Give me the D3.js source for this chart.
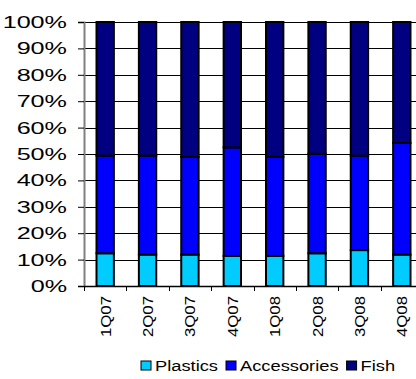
<!DOCTYPE html>
<html>
<head>
<meta charset="utf-8">
<script src="https://cdn.jsdelivr.net/npm/d3@7"></script>
<style>
  html, body { margin: 0; padding: 0; background: #fff; }
  svg { display: block; }
  text { font-family: "Liberation Sans", Arial, sans-serif; fill: #000; }
</style>
</head>
<body>
<svg id="chart" width="416" height="379"></svg>
<script>
// Quarterly product mix, percent of total
const quarters = ["1Q07", "2Q07", "3Q07", "4Q07", "1Q08", "2Q08", "3Q08", "4Q08"];
const plastics = [12.4, 11.9, 11.9, 11.4, 11.4, 12.4, 13.6, 11.9];
const accessories = [37.0, 37.5, 37.0, 41.1, 37.5, 37.7, 35.8, 42.3];
const fish = quarters.map((q, i) => +(100 - plastics[i] - accessories[i]).toFixed(1));
const seriesNames = ["Plastics", "Accessories", "Fish"];
const seriesColors = ["#00CCFF", "#0000FF", "#000080"];
const yTicks = [0, 10, 20, 30, 40, 50, 60, 70, 80, 90, 100];

const rows = quarters.map((q, i) => ({
  quarter: q, Plastics: plastics[i], Accessories: accessories[i], Fish: fish[i]
}));

const svg = d3.select("#chart");
const plot = { left: 84, top: 22, bottom: 286, right: 423 };

const x = d3.scaleBand().domain(quarters).range([plot.left, plot.right]).paddingInner(0.59).paddingOuter(0.295);
const y = d3.scaleLinear().domain([0, 100]).range([plot.bottom, plot.top]);

// Horizontal gridlines
svg.append("g").selectAll("line").data(yTicks.slice(1)).join("line")
  .attr("x1", plot.left).attr("x2", plot.right)
  .attr("y1", d => Math.round(y(d)) + 0.5).attr("y2", d => Math.round(y(d)) + 0.5)
  .attr("stroke", "#000").attr("stroke-width", 1);

// Stacked bars
const stack = d3.stack().keys(seriesNames)(rows);
const color = d3.scaleOrdinal().domain(seriesNames).range(seriesColors);
svg.append("g").selectAll("g").data(stack).join("g")
  .attr("fill", d => color(d.key))
  .selectAll("rect").data(d => d).join("rect")
  .attr("x", d => x(d.data.quarter))
  .attr("width", x.bandwidth())
  .attr("y", d => y(d[1]))
  .attr("height", d => y(d[0]) - y(d[1]))
  .attr("stroke", "#000").attr("stroke-width", 2);

// Y axis: line and ticks from d3, labels placed in a horizontally widened frame
const yAxis = svg.append("g").attr("transform", `translate(${plot.left},0)`)
  .call(d3.axisLeft(y).tickValues(yTicks).tickSize(6).tickFormat(""));
yAxis.select(".domain").attr("stroke", "#808080").attr("stroke-width", 2);
yAxis.selectAll(".tick line").attr("stroke", "#000");
svg.append("g").selectAll("g").data(yTicks).join("g")
  .attr("transform", d => `translate(67,${y(d) + 6}) scale(1.48,1)`)
  .append("text")
  .attr("text-anchor", "end")
  .attr("font-size", 17)
  .text(d => d + "%");

// X axis
const xAxis = svg.append("g").attr("transform", `translate(0,${plot.bottom})`);
xAxis.append("line").attr("x1", plot.left).attr("x2", plot.right)
  .attr("y1", 0.5).attr("y2", 0.5).attr("stroke", "#000").attr("stroke-width", 1.5);
const boundaries = d3.range(quarters.length + 1).map(i => plot.left + i * x.step());
xAxis.selectAll(".tk").data(boundaries).join("line").attr("class", "tk")
  .attr("x1", d => Math.round(d) + 0.5).attr("x2", d => Math.round(d) + 0.5)
  .attr("y1", 0).attr("y2", 5).attr("stroke", "#000");
xAxis.selectAll(".lbl").data(quarters).join("text").attr("class", "lbl")
  .attr("transform", d => `translate(${x(d) + x.bandwidth() / 2 + 5.5},10) rotate(-90) scale(1.12,1)`)
  .attr("text-anchor", "end")
  .attr("font-size", 15)
  .text(d => d);

// Legend: swatch + label, laid out left to right
const legendScale = 1.22, legendFont = 15;
const legend = svg.append("g").attr("transform", "translate(141,0)");
let cursor = 0;
seriesNames.forEach(name => {
  legend.append("rect")
    .attr("x", cursor).attr("y", 361).attr("width", 10).attr("height", 9)
    .attr("fill", color(name)).attr("stroke", "#000").attr("stroke-width", 1);
  const t = legend.append("g").attr("transform", `translate(${cursor + 14},371) scale(${legendScale},1)`)
    .append("text").attr("font-size", legendFont).text(name);
  cursor += 14 + t.node().getComputedTextLength() * legendScale + 8;
});
</script>
</body>
</html>
